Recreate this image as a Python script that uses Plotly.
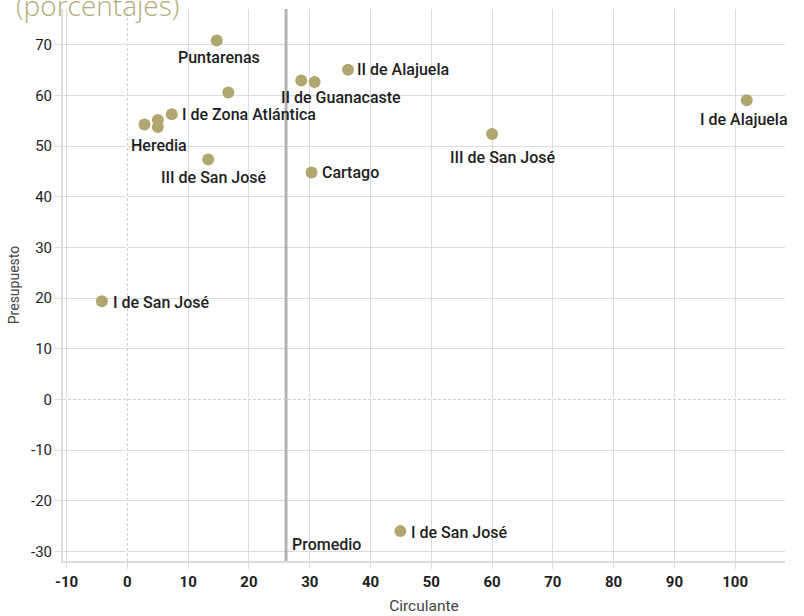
import plotly.graph_objects as go

# Data
names = ["Puntarenas", "", "II de Alajuela", "", "II de Guanacaste",
         "I de Zona Atlántica", "", "Heredia", "", "III de San José",
         "Cartago", "III de San José", "I de Alajuela", "I de San José", "I de San José"]
circulante = [14.7, 16.6, 36.3, 28.6, 30.8, 7.3, 2.8, 5.0, 5.0, 13.3, 30.3, 60.0, 101.9, -4.2, 44.9]
presupuesto = [70.9, 60.6, 65.1, 63.0, 62.7, 56.3, 54.3, 53.8, 55.2, 47.4, 44.8, 52.4, 59.1, 19.4, -26.0]
promedio = 26.1
x_ticks = [-10, 0, 10, 20, 30, 40, 50, 60, 70, 80, 90, 100]
y_ticks = [-30, -20, -10, 0, 10, 20, 30, 40, 50, 60, 70]

# label placement (style): (xanchor, xshift, yshift)
label_style = [("center", 2, -17), None, ("left", 7, 0), None, ("center", 26, -16),
               ("left", 8, 0), None, ("center", 1, -18), None, ("center", 6, -18),
               ("left", 8, 0), ("center", 11, -23), ("center", -3, -19), ("left", 9, -1), ("left", 9, -1)]

DOT = "#b0a770"
TXT = "#1e1e1e"
GRID = "#dcdcdc"
FONT = "Roboto"

fig = go.Figure()
fig.add_trace(go.Scatter(
    x=circulante, y=presupuesto, mode="markers",
    marker=dict(size=12, color=DOT), hoverinfo="skip", showlegend=False))

for n, cx, py, st in zip(names, circulante, presupuesto, label_style):
    if not n or st is None:
        continue
    xa, xs, ys = st
    fig.add_annotation(x=cx, y=py, text=n, showarrow=False, xanchor=xa, yanchor="middle",
                       xshift=xs, yshift=ys,
                       font=dict(family=FONT, size=16, color=TXT, weight=500))

# Promedio line
fig.add_shape(type="line", x0=promedio, x1=promedio, y0=0, y1=1, xref="x", yref="paper",
              line=dict(color="#b3b3b3", width=3), layer="above")
fig.add_annotation(x=promedio, y=0, yref="paper", text="Promedio", showarrow=False,
                   xanchor="left", yanchor="bottom", xshift=4, yshift=5,
                   font=dict(family=FONT, size=16, color=TXT, weight=500))

# dashed zero lines
fig.add_shape(type="line", x0=0, x1=0, y0=0, y1=1, xref="x", yref="paper",
              line=dict(color="#cfcfcf", width=1, dash="3px,2px"), layer="above")
fig.add_shape(type="line", x0=0, x1=1, y0=0, y1=0, xref="paper", yref="y",
              line=dict(color="#cfcfcf", width=1, dash="3px,2px"), layer="above")

# partially visible title
fig.add_annotation(x=-0.068, y=1.007, xref="paper", yref="paper", text="(porcentajes)",
                   showarrow=False, xanchor="left", yanchor="middle",
                   font=dict(family="Open Sans", size=28, color="#b5ab78", weight=300))

fig.update_xaxes(range=[-10.6, 108.2], tickvals=x_ticks,
                 ticktext=["<b>%d</b>" % v for v in x_ticks], automargin=False,
                 showgrid=True, gridcolor=GRID, gridwidth=1.3,
                 zeroline=True, zerolinecolor="white", zerolinewidth=2,
                 showline=True, linecolor=GRID, linewidth=2,
                 ticks="outside", ticklen=6, tickcolor=GRID,
                 tickfont=dict(family=FONT, size=15, color=TXT),
                 title=dict(text="Circulante", font=dict(family=FONT, size=15.5, color="#444"), standoff=10))
fig.update_yaxes(range=[-31.9, 77.1], tickvals=y_ticks,
                 ticktext=["%d" % v for v in y_ticks], automargin=False,
                 showgrid=True, gridcolor=GRID, gridwidth=1.3,
                 zeroline=True, zerolinecolor="white", zerolinewidth=2,
                 showline=True, linecolor=GRID, linewidth=2,
                 ticks="outside", ticklen=6, tickcolor=GRID,
                 tickfont=dict(family=FONT, size=15, color=TXT),
                 title=dict(text="Presupuesto", font=dict(family=FONT, size=14, color="#444"), standoff=8))

fig.update_layout(width=804, height=616, margin=dict(l=63, r=19, t=9, b=55),
                  plot_bgcolor="white", paper_bgcolor="white")

fig.write_html("out.html", config={"displayModeBar": False},
               post_script="document.body.style.margin='0';document.body.style.overflow='hidden';")
